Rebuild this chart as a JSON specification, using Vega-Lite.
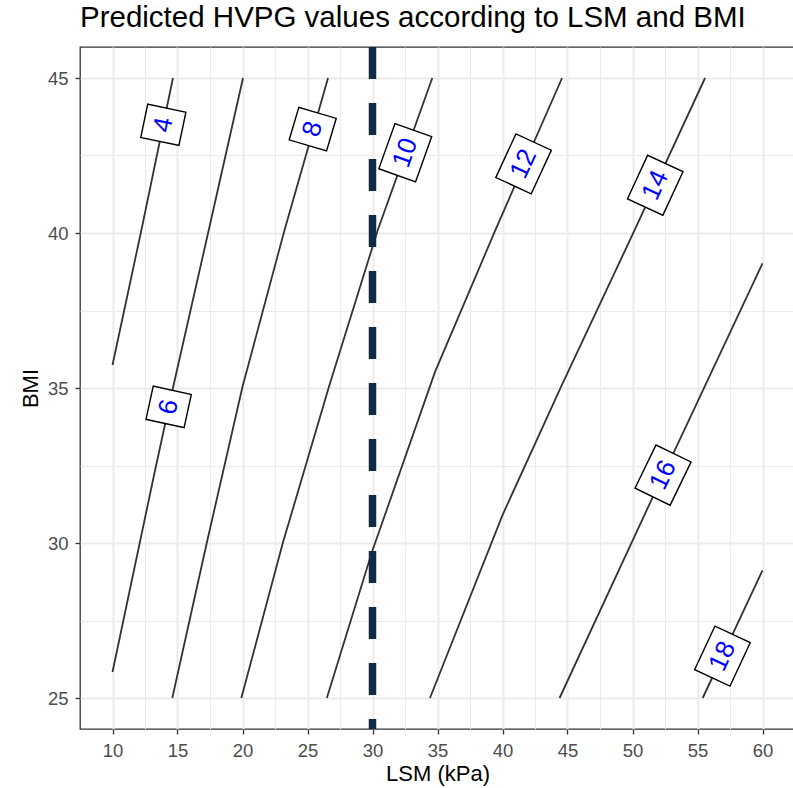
{
  "$schema": "https://vega.github.io/schema/vega-lite/v6.json",
  "width": 715,
  "height": 682,
  "autosize": {"type": "none"},
  "padding": {"left": 80, "top": 47, "right": 0, "bottom": 59},
  "background": "white",
  "title": {
    "text": "Predicted HVPG values according to LSM and BMI",
    "anchor": "start",
    "frame": "group",
    "font": "Liberation Sans",
    "fontSize": 29.5,
    "fontWeight": "normal",
    "color": "black",
    "baseline": "alphabetic",
    "offset": -13
  },
  "config": {
    "view": {"stroke": "#333333", "strokeWidth": 1.3},
    "axis": {
      "labelFont": "Liberation Sans",
      "titleFont": "Liberation Sans",
      "gridColor": "#EBEBEB",
      "domain": false,
      "labelOverlap": false,
      "labelFlush": false
    }
  },
  "datasets": {
    "contours": [
      {"level": 4, "lsm": 10.0, "bmi": 35.74},
      {"level": 4, "lsm": 12.22, "bmi": 40.09},
      {"level": 4, "lsm": 14.65, "bmi": 45.0},

      {"level": 6, "lsm": 10.0, "bmi": 25.84},
      {"level": 6, "lsm": 13.2, "bmi": 32.2},
      {"level": 6, "lsm": 14.67, "bmi": 35.04},
      {"level": 6, "lsm": 17.4, "bmi": 40.09},
      {"level": 6, "lsm": 20.04, "bmi": 45.0},

      {"level": 8, "lsm": 14.6, "bmi": 25.0},
      {"level": 8, "lsm": 17.25, "bmi": 30.0},
      {"level": 8, "lsm": 20.0, "bmi": 35.04},
      {"level": 8, "lsm": 23.23, "bmi": 40.09},
      {"level": 8, "lsm": 26.58, "bmi": 45.0},

      {"level": 10, "lsm": 19.91, "bmi": 25.0},
      {"level": 10, "lsm": 23.1, "bmi": 30.0},
      {"level": 10, "lsm": 26.65, "bmi": 35.04},
      {"level": 10, "lsm": 30.4, "bmi": 40.09},
      {"level": 10, "lsm": 34.6, "bmi": 45.0},

      {"level": 12, "lsm": 26.49, "bmi": 25.0},
      {"level": 12, "lsm": 29.95, "bmi": 29.7},
      {"level": 12, "lsm": 34.81, "bmi": 35.52},
      {"level": 12, "lsm": 39.45, "bmi": 40.09},
      {"level": 12, "lsm": 44.58, "bmi": 45.0},

      {"level": 14, "lsm": 34.42, "bmi": 25.0},
      {"level": 14, "lsm": 40.0, "bmi": 30.9},
      {"level": 14, "lsm": 44.5, "bmi": 35.04},
      {"level": 14, "lsm": 50.16, "bmi": 40.09},
      {"level": 14, "lsm": 55.58, "bmi": 45.0},

      {"level": 16, "lsm": 44.39, "bmi": 25.0},
      {"level": 16, "lsm": 51.38, "bmi": 31.32},
      {"level": 16, "lsm": 60.0, "bmi": 39.02},

      {"level": 18, "lsm": 55.4, "bmi": 25.0},
      {"level": 18, "lsm": 60.0, "bmi": 29.12}
    ],
    "labels": [
      {"level": "4", "lsm": 13.91, "bmi": 43.49, "slope": 0.5},
      {"level": "6", "lsm": 14.32, "bmi": 34.39, "slope": 0.52},
      {"level": "8", "lsm": 25.4, "bmi": 43.35, "slope": 0.72},
      {"level": "10", "lsm": 32.52, "bmi": 42.59, "slope": 0.867},
      {"level": "12", "lsm": 41.62, "bmi": 42.23, "slope": 1.11},
      {"level": "14", "lsm": 51.75, "bmi": 41.54, "slope": 1.11},
      {"level": "16", "lsm": 52.35, "bmi": 32.19, "slope": 1.16},
      {"level": "18", "lsm": 56.92, "bmi": 26.35, "slope": 1.12}
    ],
    "cutoff": [{"lsm": 30}]
  },
  "resolve": {"axis": {"x": "independent", "y": "independent"}},
  "layer": [
    {
      "data": {"name": "contours"},
      "mark": {"type": "line", "color": "#333333", "strokeWidth": 1.8},
      "encoding": {
        "x": {
          "field": "lsm", "type": "quantitative",
          "scale": {"domain": [7.5, 62.5], "nice": false, "zero": false},
          "axis": {
            "orient": "top", "values": [12.5, 17.5, 22.5, 27.5, 32.5, 37.5, 42.5, 47.5, 52.5, 57.5],
            "grid": true, "gridWidth": 1.1, "labels": false, "ticks": false, "title": null
          }
        },
        "y": {
          "field": "bmi", "type": "quantitative",
          "scale": {"domain": [24, 46], "nice": false, "zero": false},
          "axis": {
            "orient": "right", "values": [27.5, 32.5, 37.5, 42.5],
            "grid": true, "gridWidth": 1.1, "labels": false, "ticks": false, "title": null
          }
        },
        "detail": {"field": "level", "type": "nominal"}
      }
    },
    {
      "data": {"name": "cutoff"},
      "mark": {"type": "rule", "color": "#112A46", "strokeWidth": 7.5, "strokeDash": [32, 24]},
      "encoding": {
        "x": {
          "field": "lsm", "type": "quantitative",
          "scale": {"domain": [7.5, 62.5], "nice": false, "zero": false},
          "axis": {
            "orient": "bottom",
            "values": [10, 15, 20, 25, 30, 35, 40, 45, 50, 55, 60],
            "grid": true, "gridWidth": 2,
            "ticks": true, "tickColor": "#333333", "tickWidth": 1.3, "tickSize": 5,
            "labelFontSize": 18.5, "labelColor": "#4D4D4D", "labelPadding": 7,
            "title": "LSM (kPa)", "titleFontSize": 22, "titleFontWeight": "normal",
            "titleColor": "black", "titleBaseline": "alphabetic", "titleY": 51
          }
        }
      }
    },
    {
      "data": {"name": "labels"},
      "mark": {"type": "point", "filled": true, "fill": "white", "stroke": "black", "strokeWidth": 1.4, "opacity": 1, "size": 4},
      "encoding": {
        "x": {
          "field": "lsm", "type": "quantitative",
          "scale": {"domain": [7.5, 62.5], "nice": false, "zero": false},
          "axis": null
        },
        "y": {
          "field": "bmi", "type": "quantitative",
          "scale": {"domain": [24, 46], "nice": false, "zero": false},
          "axis": {
            "orient": "left",
            "values": [25, 30, 35, 40, 45],
            "grid": true, "gridWidth": 2,
            "ticks": true, "tickColor": "#333333", "tickWidth": 1.3, "tickSize": 5,
            "labelFontSize": 18.5, "labelColor": "#4D4D4D", "labelPadding": 7,
            "title": "BMI", "titleFontSize": 22, "titleFontWeight": "normal",
            "titleColor": "black", "titleBaseline": "alphabetic", "titleX": -43
          }
        },
        "shape": {
          "field": "level", "type": "nominal", "legend": null,
          "scale": {
            "domain": ["4", "6", "8", "10", "12", "14", "16", "18"],
            "range": [
              "M-17,-19.5L17,-19.5L17,19.5L-17,19.5Z",
              "M-17,-19.5L17,-19.5L17,19.5L-17,19.5Z",
              "M-17,-19.5L17,-19.5L17,19.5L-17,19.5Z",
              "M-24,-19.5L24,-19.5L24,19.5L-24,19.5Z",
              "M-24,-19.5L24,-19.5L24,19.5L-24,19.5Z",
              "M-24,-19.5L24,-19.5L24,19.5L-24,19.5Z",
              "M-24,-19.5L24,-19.5L24,19.5L-24,19.5Z",
              "M-24,-19.5L24,-19.5L24,19.5L-24,19.5Z"
            ]
          }
        },
        "angle": {
          "field": "slope", "type": "quantitative",
          "scale": {"domain": [0.5, 1.2], "range": [-78.15, -63.28], "zero": false, "nice": false}
        }
      }
    },
    {
      "data": {"name": "labels"},
      "mark": {"type": "text", "font": "Liberation Sans", "fontSize": 26, "color": "#0000FF", "align": "center", "baseline": "middle"},
      "encoding": {
        "x": {
          "field": "lsm", "type": "quantitative",
          "scale": {"domain": [7.5, 62.5], "nice": false, "zero": false},
          "axis": null
        },
        "y": {
          "field": "bmi", "type": "quantitative",
          "scale": {"domain": [24, 46], "nice": false, "zero": false},
          "axis": null
        },
        "text": {"field": "level", "type": "nominal"},
        "angle": {
          "field": "slope", "type": "quantitative",
          "scale": {"domain": [0.5, 1.2], "range": [-78.15, -63.28], "zero": false, "nice": false}
        }
      }
    }
  ]
}
